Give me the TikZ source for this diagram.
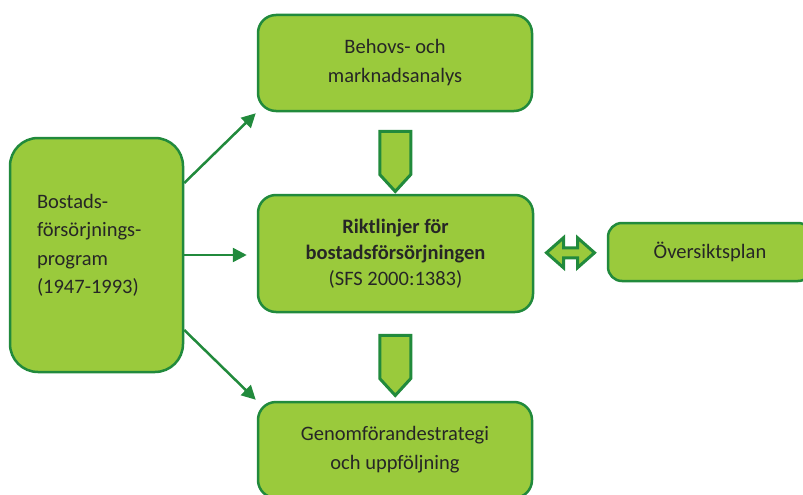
\documentclass[tikz,border=0pt]{standalone}
\usepackage{fontspec}
\setmainfont{Carlito}
\usetikzlibrary{arrows.meta,
                calc,
                positioning,
                shapes.arrows
                }
\definecolor{leaf}{RGB}{154,202,60}
\definecolor{moss}{RGB}{33,138,60}

\begin{document}
\begin{tikzpicture}[x=1pt, y=-1pt,
      box/.style = {draw=moss, fill=leaf, line width=2.5pt, rounded corners=18pt,
                    align=center, text=black!85, inner sep=0pt,
                    font=\fontsize{20.5}{29}\selectfont},
     conn/.style = {draw=moss, line width=2.5pt, -{Triangle[length=14pt,width=14pt]}},
     down/.style = {shape=single arrow, draw=moss, fill=leaf, line width=3pt,
                    shape border rotate=270, single arrow head extend=0pt,
                    single arrow tip angle=85, minimum height=60pt,
                    minimum width=31pt, inner sep=0pt},
     both/.style = {draw=moss, fill=leaf, line width=3pt, line join=miter}
      ]
    \clip (0,0) rectangle (803,495);
    \node (top) [box, minimum width=274pt, minimum height=96pt] at (395,63)
        {Behovs- och\\marknadsanalys};
    \node (mid) [box, minimum width=275pt, minimum height=117pt,
                 font=\fontsize{20.5}{26}\selectfont] at (395.5,253.5)
        {\textbf{Riktlinjer för}\\\textbf{bostadsförsörjningen}\\(SFS 2000:1383)};
    \node (bot) [box, minimum width=274pt, minimum height=96pt] at (395,450)
        {Genomförandestrategi\\och uppföljning};
    \node (lft) [box, rounded corners=28pt, minimum width=173pt, minimum height=234pt,
                 text width=119pt, inner xsep=27pt, align=left,
                 font=\fontsize{20.5}{28.5}\selectfont] at (96.5,255)
        {Bostads-\\försörjnings-\\program\\(1947-1993)\\[-6pt]\mbox{}};
    \node (rgt) [box, rounded corners=14pt, minimum width=204pt, minimum height=58pt]
        at (710,252) {Översiktsplan};
    % block arrows
    \node (dn1) [down] at ($(top.south)!0.5!(mid.north)$) {};
    \node (dn2) [down] at ($(mid.south)!0.5!(bot.north)$) {};
    \coordinate (lnk) at ($(mid.east)!0.5!(rgt.west)$);
    \draw[both] ($(lnk)+(-24,0)$) -- ++(17,-15) -- ++(0,10) -- ++(14,0)
        -- ++(0,-10) -- ++(17,15) -- ++(-17,15) -- ++(0,-10) -- ++(-14,0)
        -- ++(0,10) -- cycle;
    % connectors
    \draw[conn] ([yshift=72pt]lft.east) -- ([shift={(-1pt,-1pt)}]top.south west);
    \draw[conn] (lft.east) -- ([xshift=-10pt]mid.west |- lft.east);
    \draw[conn] ([yshift=-75pt]lft.east) -- ([shift={(-1pt,1pt)}]bot.north west);
\end{tikzpicture}
\end{document}
